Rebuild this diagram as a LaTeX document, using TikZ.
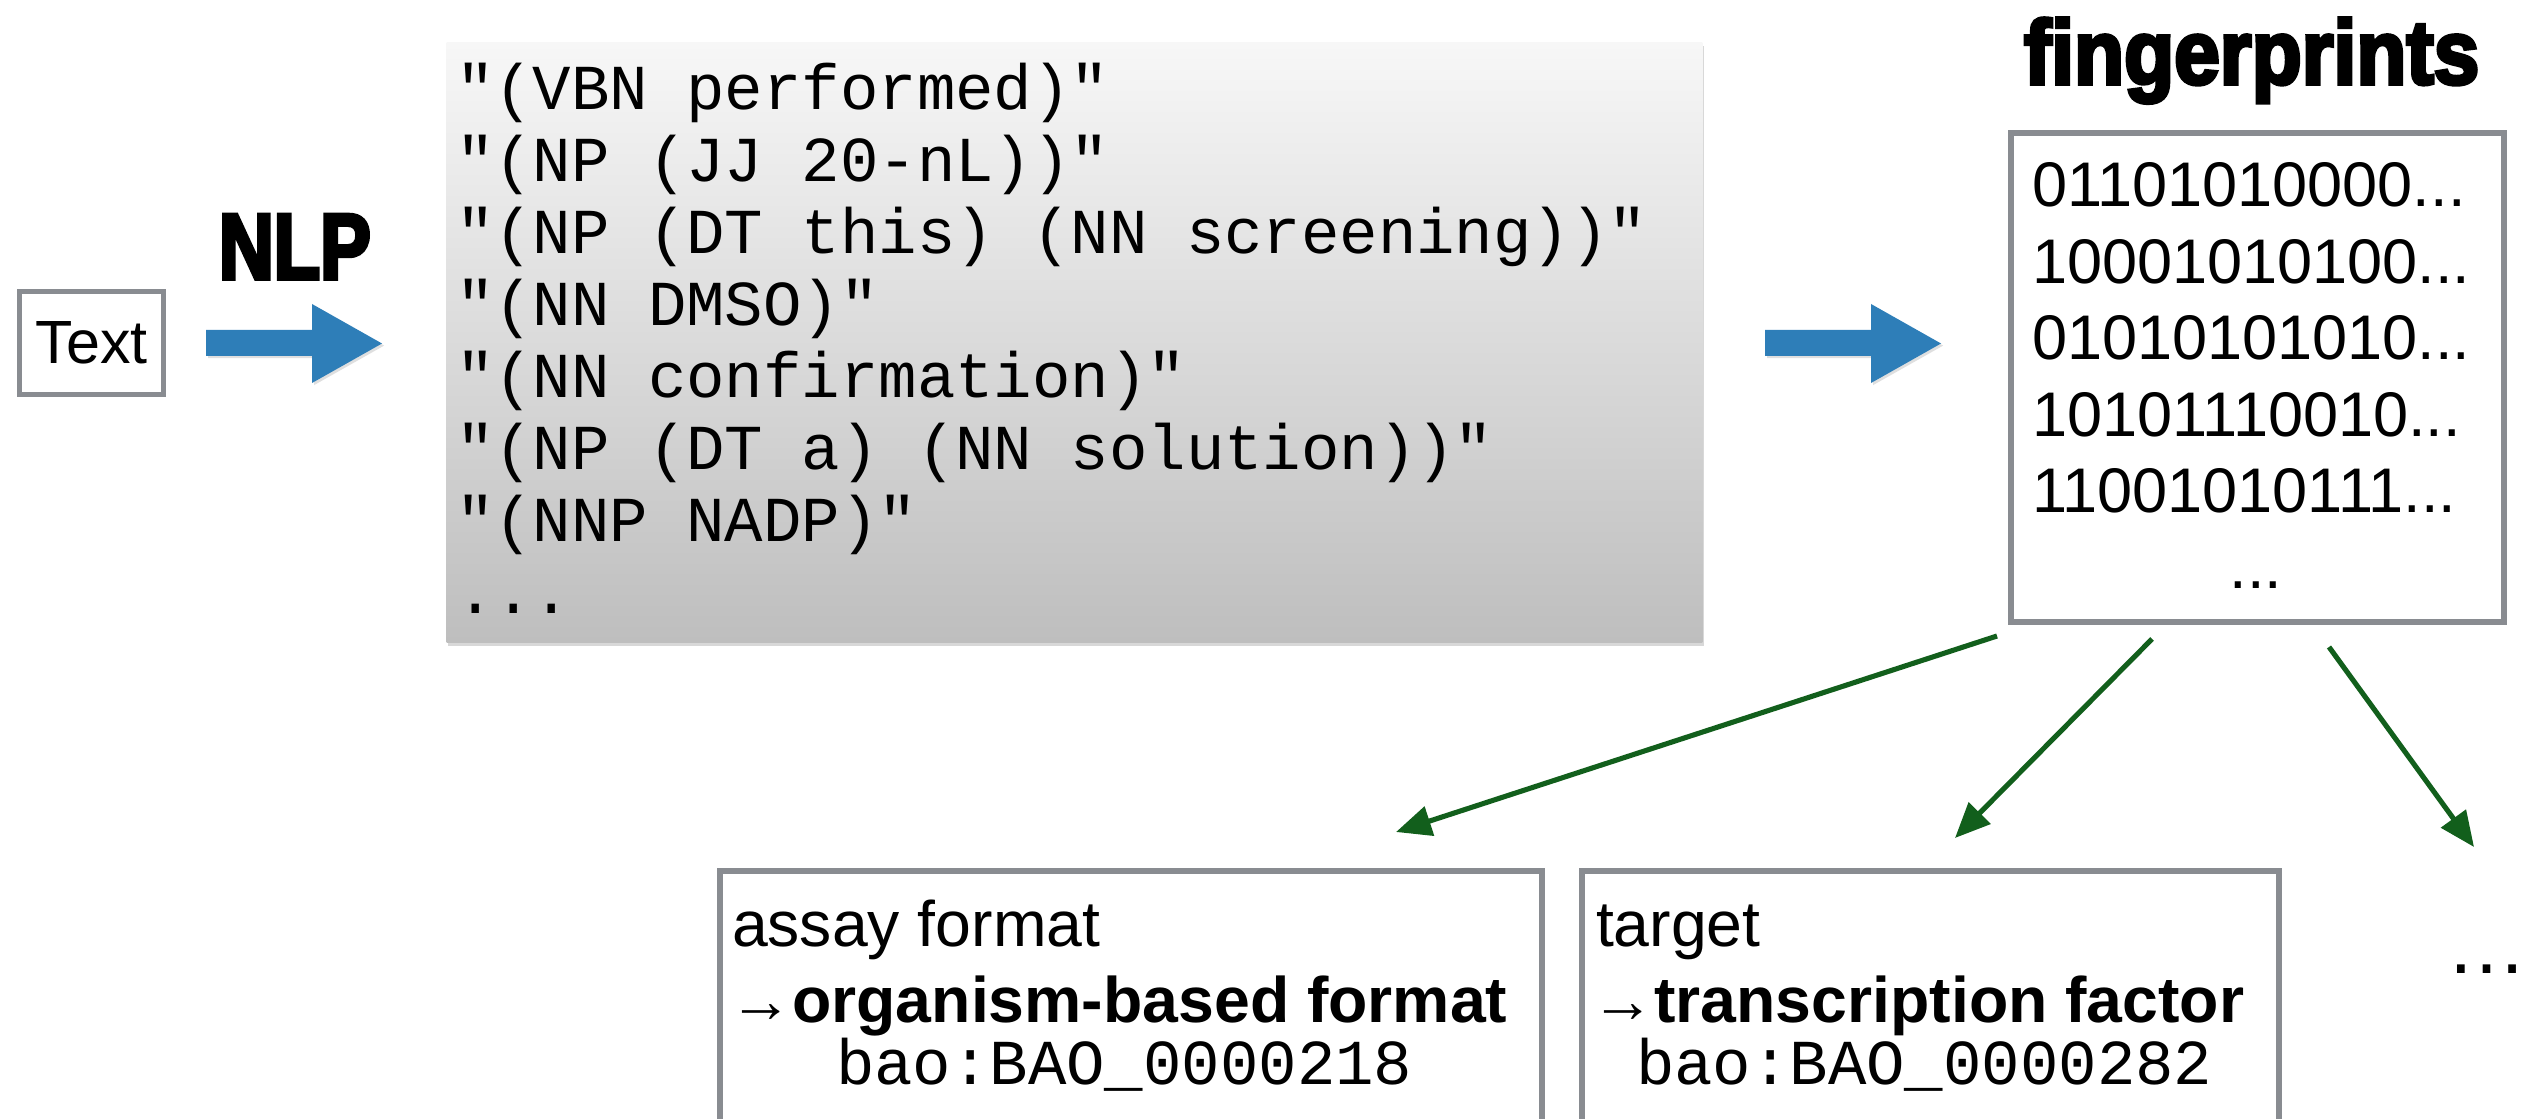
\documentclass[tikz,border=0pt]{standalone}
\usepackage{fontspec}
\setmainfont{Liberation Sans}
\setmonofont{Liberation Mono}
\newfontfamily\nlpfont[FakeStretch=0.81,FakeBold=4]{Liberation Sans Bold}
\newfontfamily\fpfont[FakeStretch=0.90,FakeBold=4]{Liberation Sans Bold}
\usetikzlibrary{arrows.meta,shadows}
\definecolor{framegray}{RGB}{137,140,145}
\definecolor{flowblue}{RGB}{46,126,184}
\definecolor{linkgreen}{RGB}{18,95,28}
\definecolor{codetop}{RGB}{247,247,247}
\definecolor{codebottom}{RGB}{190,190,190}
\newcommand\smallarr{{\fontsize{18pt}{18pt}\selectfont →}}
\newcommand\tdots{.{}.{}.}
\begin{document}
\begin{tikzpicture}[x=0.01cm,y=-0.01cm,
  txt/.style={inner sep=0pt, outer sep=0pt, anchor=base west},
  framebox/.style={draw=framegray, line width=1.6pt, fill=white, inner sep=0pt},
  codeline/.style={txt, font=\ttfamily\fontsize{18.21pt}{20.49pt}\selectfont},
  fpline/.style={txt, font=\fontsize{17.93pt}{21.77pt}\selectfont},
  plain/.style={txt, font=\fontsize{18.3pt}{20pt}\selectfont},
  boldline/.style={txt, font=\bfseries\fontsize{18.3pt}{20pt}\selectfont},
  idline/.style={txt, font=\ttfamily\fontsize{18.21pt}{20pt}\selectfont},
  link/.style={draw=linkgreen, line width=1.45pt, -{Triangle[length=10pt,width=8.5pt]}},
  flow/.style={fill=flowblue, drop shadow={shadow xshift=0.6pt, shadow yshift=-0.6pt, opacity=0.25}},
]
\useasboundingbox (0,0) rectangle (2542,1119);
\clip (0,0) rectangle (2542,1119);
\fill[white] (0,0) rectangle (2542,1119);

% input text box
\node[framebox, minimum width=1.44cm, minimum height=1.03cm,
      font=\fontsize{17.36pt}{20pt}\selectfont] (textbox) at (91.5,343) {Text};

% NLP label
\node[txt, font=\nlpfont\fontsize{26.63pt}{28pt}\selectfont] (nlp) at (219,279) {NLP};

% block arrows
\path[flow] (206,330) -- (312,330) -- (312,304) -- (382,343.5)
    -- (312,383) -- (312,356) -- (206,356) -- cycle;
\path[flow] (1765,330) -- (1871,330) -- (1871,304) -- (1941,343.5)
    -- (1871,383) -- (1871,356) -- (1765,356) -- cycle;

% parse box
\node[minimum width=12.55cm, minimum height=5.99cm, inner sep=0pt,
      top color=codetop, bottom color=codebottom,
      drop shadow={shadow xshift=0.5pt, shadow yshift=-1pt, opacity=0.3}] (codebox) at (1074.5,342.5) {};
\node[codeline] (code0) at (456,110) {"(VBN performed)"};
\node[codeline] (code1) at (456,182) {"(NP (JJ 20-nL))"};
\node[codeline] (code2) at (456,254) {"(NP (DT this) (NN screening))"};
\node[codeline] (code3) at (456,326) {"(NN DMSO)"};
\node[codeline] (code4) at (456,398) {"(NN confirmation)"};
\node[codeline] (code5) at (456,470) {"(NP (DT a) (NN solution))"};
\node[codeline] (code6) at (456,542) {"(NNP NADP)"};
\node[codeline] (code7) at (456,614) {\tdots};

% fingerprints
\node[txt, font=\fpfont\fontsize{25.89pt}{28pt}\selectfont] (fptitle) at (2024,84) {fingerprints};
\node[framebox, minimum width=4.93cm, minimum height=4.89cm] (fpbox) at (2257.5,377.5) {};
\node[fpline] (fp0) at (2032,207) {01101010000\tdots};
\node[fpline] (fp1) at (2032,283.5) {10001010100\tdots};
\node[fpline] (fp2) at (2032,360) {01010101010\tdots};
\node[fpline] (fp3) at (2032,436.5) {10101110010\tdots};
\node[fpline] (fp4) at (2032,513) {11001010111\tdots};
\node[fpline, anchor=base] (fpmore) at (2256,589) {\tdots};

% annotation boxes
\node[framebox, minimum width=8.22cm, minimum height=3cm] (assay) at (1131,1021) {};
\node[framebox, minimum width=6.97cm, minimum height=3cm] (target) at (1930.5,1021) {};

\node[plain] (assayname) at (732,946) {assay format};
\node[boldline] (assayval) at (729,1022) {\smallarr organism-based format};
\node[idline] (assayid) at (836,1084) {bao:BAO\_0000218};

\node[plain] (targetname) at (1596,946) {target};
\node[boldline] (targetval) at (1591,1022) {\smallarr transcription factor};
\node[idline] (targetid) at (1636,1084) {bao:BAO\_0000282};

\node[txt, font=\fontsize{23pt}{25pt}\selectfont] (more) at (2446,973) {…};

% links
\coordinate (s1) at (1997,636);
\coordinate (s2) at (2152,639);
\coordinate (s3) at (2329,647);
\coordinate (e1) at (1396,832);
\coordinate (e2) at (1955,838);
\coordinate (e3) at (2474,847);
\draw[link] (s1) -- (e1);
\draw[link] (s2) -- (e2);
\draw[link] (s3) -- (e3);
\end{tikzpicture}
\end{document}
